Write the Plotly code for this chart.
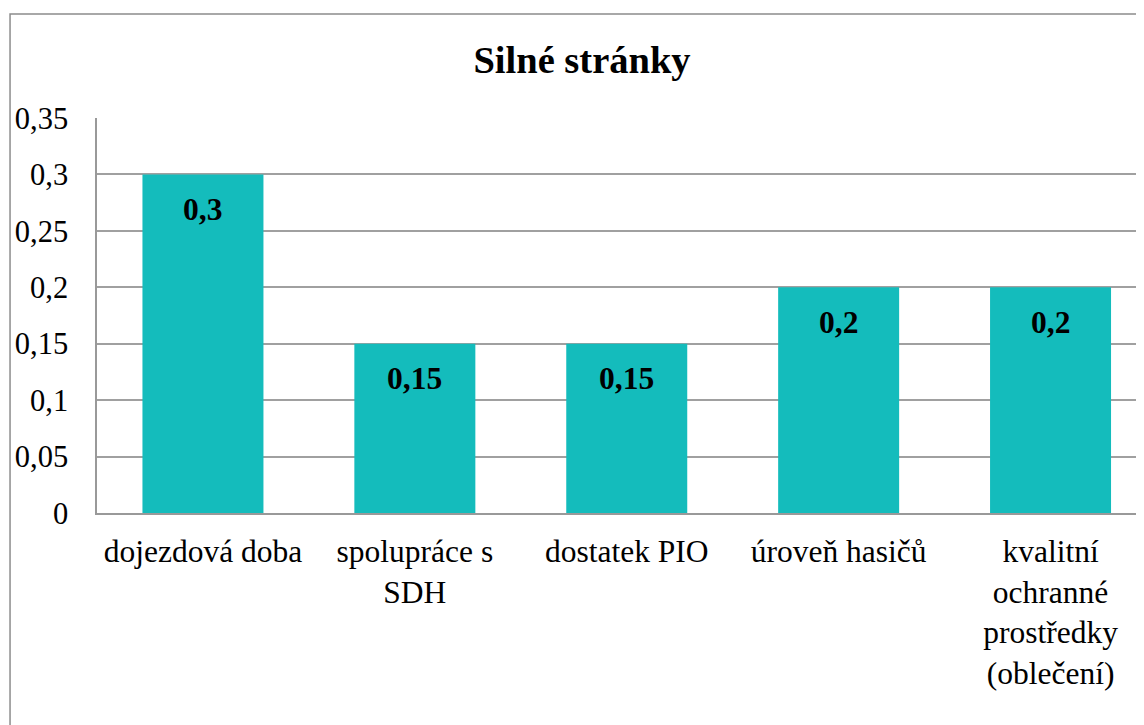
import plotly.graph_objects as go

categories = ["dojezdová doba", "spolupráce s<br>SDH", "dostatek PIO", "úroveň hasičů",
              "kvalitní<br>ochranné<br>prostředky<br>(oblečení)"]
values = [0.3, 0.15, 0.15, 0.2, 0.2]
value_labels = ["0,3", "0,15", "0,15", "0,2", "0,2"]
tick_vals = [0, 0.05, 0.1, 0.15, 0.2, 0.25, 0.3, 0.35]
tick_text = ["0", "0,05", "0,1", "0,15", "0,2", "0,25", "0,3", "0,35"]

# page body has an 8px margin
W, H = 1136, 717
L, T = 88.5, 110
PLOT_BOTTOM = 505
B = H - PLOT_BOTTOM
FONT = "Liberation Serif"

fig = go.Figure()
fig.add_trace(go.Bar(
    x=list(range(len(categories))), y=values,
    marker=dict(color="#14BCBC", line=dict(width=0)),
    width=0.571, hoverinfo="skip",
))

for i, (v, lab) in enumerate(zip(values, value_labels)):
    fig.add_annotation(x=i, y=v, text="<b>%s</b>" % lab, showarrow=False,
                       yanchor="middle", yshift=-35,
                       font=dict(family=FONT, size=31.5, color="#000000"))

# outer chart border
pw = W - L
ph = H - T - B
fig.add_shape(type="rect", xref="paper", yref="paper",
              x0=(1.5 - L) / pw, x1=(1160 - L) / pw,
              y0=-(H + 20 - PLOT_BOTTOM) / ph, y1=(PLOT_BOTTOM - 6) / ph,
              line=dict(color="#8c8c8c", width=1.5), fillcolor="rgba(0,0,0,0)",
              layer="below")

fig.update_layout(
    width=W, height=H,
    margin=dict(l=L, r=0, t=T, b=B, autoexpand=False),
    paper_bgcolor="white", plot_bgcolor="white",
    showlegend=False,
    font=dict(family=FONT),
    title=dict(text="<b>Silné stránky</b>", x=574 / W, xref="container", xanchor="center",
               y=1 - 52 / H, yref="container", yanchor="middle",
               font=dict(family=FONT, size=38.5, color="#000000")),
    xaxis=dict(range=[-0.5, -0.5 + (W - L) / 212.0],
               tickmode="array", tickvals=list(range(len(categories))), ticktext=categories,
               tickfont=dict(family=FONT, size=31.5, color="#000000"),
               showgrid=False, zeroline=False,
               showline=True, linecolor="#999999", linewidth=1.5,
               ticks="outside", ticklen=9, tickcolor="rgba(0,0,0,0)",
               tickangle=0, fixedrange=True),
    yaxis=dict(range=[0, 0.35], tickmode="array", tickvals=tick_vals, ticktext=tick_text,
               tickfont=dict(family=FONT, size=30.5, color="#000000"),
               showgrid=True, gridcolor="#a0a0a0", gridwidth=1.5,
               zeroline=False, showline=True, linecolor="#999999", linewidth=1.5,
               ticks="outside", ticklen=21, tickcolor="rgba(0,0,0,0)", fixedrange=True),
)

fig.write_html("out.html", config={"displayModeBar": False})
